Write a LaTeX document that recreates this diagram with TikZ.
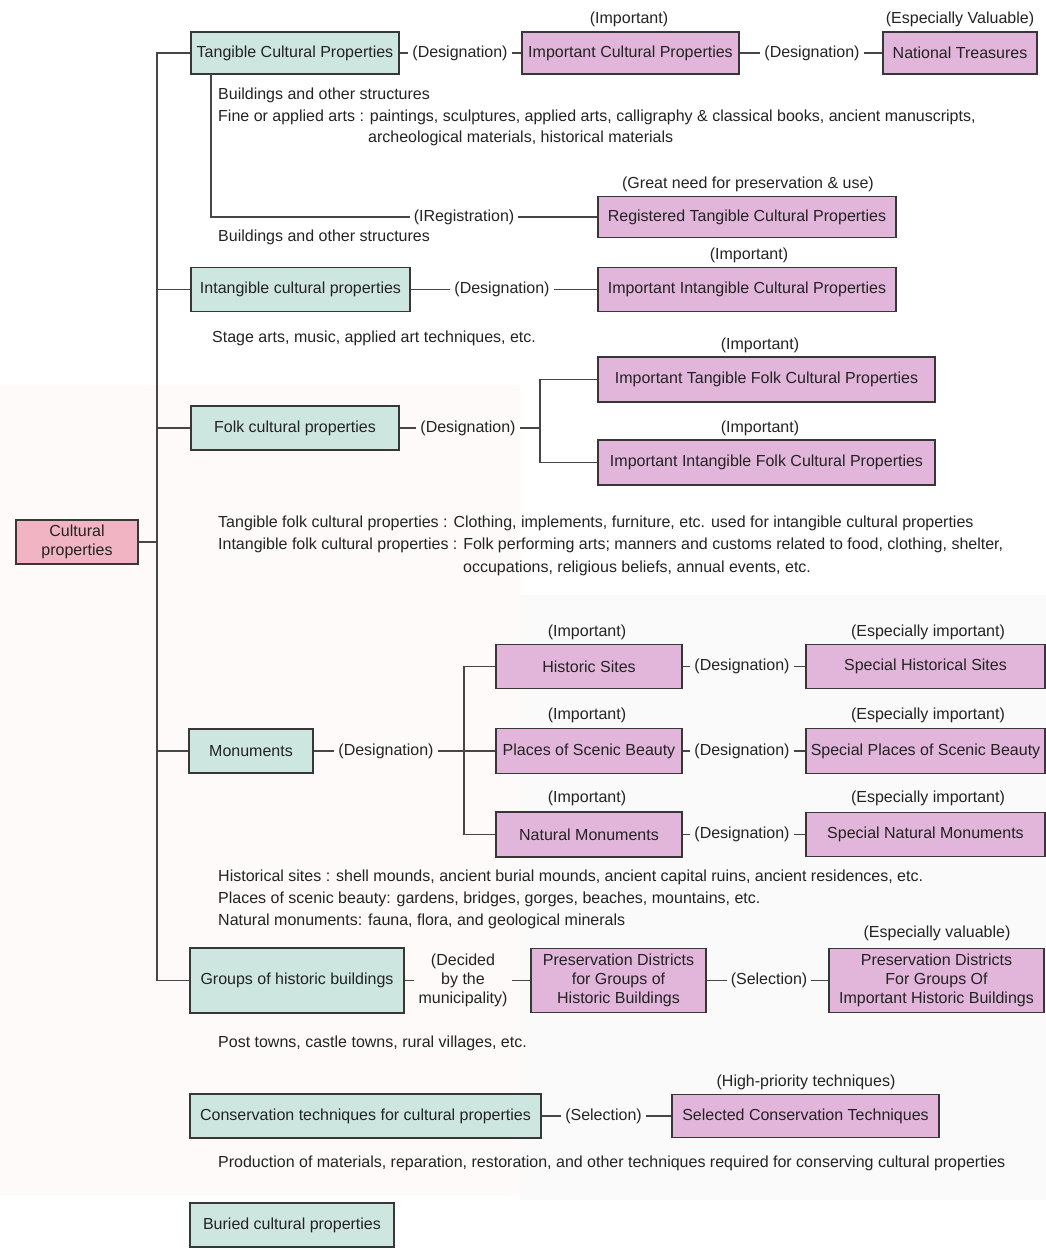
\documentclass[tikz,border=0pt]{standalone}
\usepackage{fontspec}
\setmainfont{Liberation Sans}
\usepackage{xcolor}
\usetikzlibrary{calc}

\definecolor{boxline}{RGB}{55,55,55}
\definecolor{lineclr}{RGB}{70,70,70}
\definecolor{inkgrey}{RGB}{35,35,35}
\definecolor{tealfill}{RGB}{206,230,224}
\definecolor{pinkfill}{RGB}{226,181,218}
\definecolor{rosefill}{RGB}{241,180,194}

\begin{document}
\begin{tikzpicture}[x=1pt,y=-1pt,
    font=\fontsize{16}{19}\selectfont,
    every node/.style={text=inkgrey},
    wh/.style 2 args={minimum width=#1,minimum height=#2},
    boxbase/.style={draw=boxline,line width=1.8pt,inner sep=0pt,align=center},
    tealbox/.style={boxbase,fill=tealfill},
    pinkbox/.style={boxbase,fill=pinkfill},
    rosebox/.style={boxbase,fill=rosefill},
    lbl/.style={inner sep=4pt,align=center},
    note/.style={anchor=west,inner sep=0pt},
    conn/.style={draw=lineclr,line width=1.5pt}]
    \useasboundingbox (0,0) rectangle (1046,1253);
    % faint page background
    \fill[red!2] (0,385) rectangle (520,1195);
    \fill[black!2] (520,595) rectangle (1046,1200);

    % root and main branches
    \node[rosebox,wh={122}{44}] (cult) at (77,542) {Cultural\\properties};
    \node[tealbox,wh={208}{42}] (tcp) at (295,53) {Tangible Cultural Properties};
    \node[tealbox,wh={219}{44}] (incp) at (300.5,289.5) {Intangible cultural properties};
    \node[tealbox,wh={208}{44}] (fcp) at (295,428) {Folk cultural properties};
    \node[tealbox,wh={124}{44}] (mon) at (251,751) {Monuments};
    \node[tealbox,wh={214}{65}] (ghb) at (297,980.5) {Groups of historic buildings};
    \node[tealbox,wh={351}{44}] (ctc) at (365.5,1116) {Conservation techniques for cultural properties};
    \node[tealbox,wh={204}{44}] (bcp) at (292,1225) {Buried cultural properties};

    % trunk
    \coordinate (ttop) at (157,53);
    \coordinate (tbot) at (157,980.5);
    \draw[conn] (tcp.west) -- (ttop) -- (tbot) -- (ghb.west);
    \draw[conn] (cult.east) -- (cult.east -| ttop);
    \draw[conn] (incp.west) -- (incp.west -| ttop);
    \draw[conn] (fcp.west) -- (fcp.west -| ttop);
    \draw[conn] (mon.west) -- (mon.west -| ttop);

    % tangible
    \node[pinkbox,wh={217}{42}] (icp) at (630.5,53) {Important Cultural Properties};
    \node[pinkbox,wh={154}{42}] (nt) at (960,53) {National Treasures};
    \node[pinkbox,wh={298}{41}] (rtcp) at (747,217) {Registered Tangible Cultural Properties};
    \node[lbl] (desa) at (460,53) {(Designation)};
    \node[lbl] (desb) at (812,53) {(Designation)};
    \node[lbl] (regi) at (464,217) {(IRegistration)};
    \node (impa) at (629,19) {(Important)};
    \node (espa) at (960,19) {(Especially Valuable)};
    \node (great) at (748,184) {(Great need for preservation \& use)};
    \draw[conn] (tcp) -- (desa) -- (icp);
    \draw[conn] (icp) -- (desb) -- (nt);
    \coordinate (tb) at (211,74);
    \draw[conn] (tb) |- (regi.west);
    \draw[conn] (regi) -- (rtcp);
    \node[note] (n1) at (218,95) {Buildings and other structures};
    \node[note] (n2) at (218,117) {Fine or applied arts : paintings, sculptures, applied arts, calligraphy \& classical books, ancient manuscripts,};
    \node[note] (n3) at (368,138) {archeological materials, historical materials};
    \node[note] (n4) at (218,237) {Buildings and other structures};

    % intangible
    \node[pinkbox,wh={298}{44}] (iicp) at (747,289.5) {Important Intangible Cultural Properties};
    \node[lbl] (desc) at (502,289.5) {(Designation)};
    \node (impb) at (749,255) {(Important)};
    \draw[conn] (incp) -- (desc) -- (iicp);
    \node[note] (n5) at (212,338) {Stage arts, music, applied art techniques, etc.};

    % folk
    \node[pinkbox,wh={337}{45}] (itfcp) at (766.5,379.5) {Important Tangible Folk Cultural Properties};
    \node[pinkbox,wh={337}{45}] (iifcp) at (766.5,462.5) {Important Intangible Folk Cultural Properties};
    \node[lbl] (desd) at (468,428) {(Designation)};
    \node (impc) at (760,345) {(Important)};
    \node (impd) at (760,428) {(Important)};
    \coordinate (fb) at (540,428);
    \draw[conn] (fcp) -- (desd) -- (fb);
    \draw[conn] (itfcp.west) -| (fb) |- (iifcp.west);
    \node[note] (n6) at (218,523) {Tangible folk cultural properties : Clothing, implements, furniture, etc. used for intangible cultural properties};
    \node[note] (n7) at (218,545) {Intangible folk cultural properties : Folk performing arts; manners and customs related to food, clothing, shelter,};
    \node[note] (n8) at (463,568) {occupations, religious beliefs, annual events, etc.};

    % monuments
    \node[pinkbox,wh={186}{44}] (hs) at (589,666.5) {Historic Sites};
    \node[pinkbox,wh={186}{45}] (psb) at (589,751) {Places of Scenic Beauty};
    \node[pinkbox,wh={186}{45}] (nm) at (589,834.5) {Natural Monuments};
    \node[pinkbox,wh={239}{44}] (shs) at (925.5,666.5) {Special Historical Sites};
    \node[pinkbox,wh={239}{45}] (spsb) at (925.5,751) {Special Places of Scenic Beauty};
    \node[pinkbox,wh={239}{44}] (snm) at (925.5,834.5) {Special Natural Monuments};
    \node[lbl] (dese) at (386,751) {(Designation)};
    \node[lbl] (desf) at (742,666.5) {(Designation)};
    \node[lbl] (desg) at (742,751) {(Designation)};
    \node[lbl] (desh) at (742,834.5) {(Designation)};
    \node (impe) at (587,632) {(Important)};
    \node (impf) at (587,715) {(Important)};
    \node (impg) at (587,798) {(Important)};
    \node (espb) at (928,632) {(Especially important)};
    \node (espc) at (928,715) {(Especially important)};
    \node (espd) at (928,798) {(Especially important)};
    \coordinate (mb) at (464,751);
    \draw[conn] (mon) -- (dese) -- (mb) -- (psb);
    \draw[conn] (hs.west) -| (mb) |- (nm.west);
    \draw[conn] (hs) -- (desf) -- (shs);
    \draw[conn] (psb) -- (desg) -- (spsb);
    \draw[conn] (nm) -- (desh) -- (snm);
    \node[note] (n9) at (218,877) {Historical sites : shell mounds, ancient burial mounds, ancient capital ruins, ancient residences, etc.};
    \node[note] (n10) at (218,899) {Places of scenic beauty: gardens, bridges, gorges, beaches, mountains, etc.};
    \node[note] (n11) at (218,921) {Natural monuments: fauna, flora, and geological minerals};

    % groups of historic buildings
    \node[pinkbox,wh={175}{64}] (pd) at (618.5,980.5) {Preservation Districts\\for Groups of\\Historic Buildings};
    \node[pinkbox,wh={215}{64}] (pdi) at (936.5,980.5) {Preservation Districts\\For Groups Of\\Important Historic Buildings};
    \node[lbl] (dec) at (463,980.5) {(Decided\\by the\\municipality)};
    \node[lbl] (sela) at (769,980.5) {(Selection)};
    \node (espe) at (937,933) {(Especially valuable)};
    \draw[conn] (ghb) -- (dec) -- (pd);
    \draw[conn] (pd) -- (sela) -- (pdi);
    \node[note] (n12) at (218,1043) {Post towns, castle towns, rural villages, etc.};

    % conservation techniques
    \node[pinkbox,wh={267}{43}] (sct) at (805.5,1116) {Selected Conservation Techniques};
    \node[lbl] (selb) at (603.5,1116) {(Selection)};
    \node (high) at (806,1082) {(High-priority techniques)};
    \draw[conn] (ctc) -- (selb) -- (sct);
    \node[note] (n13) at (218,1163) {Production of materials, reparation, restoration, and other techniques required for conserving cultural properties};
\end{tikzpicture}
\end{document}
